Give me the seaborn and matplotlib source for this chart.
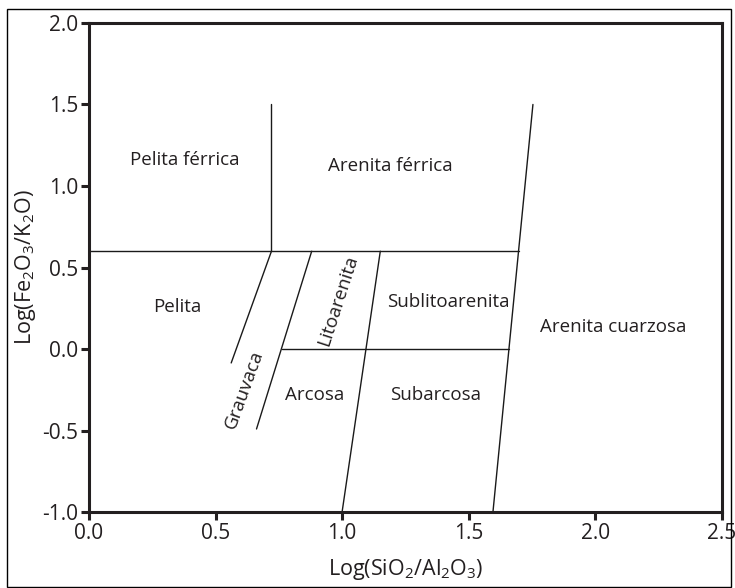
import matplotlib
matplotlib.use("Agg")
import matplotlib.pyplot as plt
import seaborn as sns
import pandas as pd
from matplotlib.patches import Rectangle

# boundary segments of the classification diagram (x = log SiO2/Al2O3, y = log Fe2O3/K2O)
seg_names = ['ferric_vert', 'ferric_horiz', 'grauvaca_1', 'grauvaca_2',
             'zero_horiz', 'arcosa_sub', 'cuarzosa']
seg_x0 = [0.721, 0.0, 0.721, 0.880, 0.762, 1.151, 1.754]
seg_y0 = [1.50, 0.60, 0.60, 0.60, 0.00, 0.60, 1.50]
seg_x1 = [0.721, 1.697, 0.562, 0.662, 1.659, 1.000, 1.596]
seg_y1 = [0.60, 0.60, -0.085, -0.49, 0.00, -1.00, -1.00]

# field labels
field_names = ['Pelita férrica', 'Arenita férrica', 'Pelita', 'Grauvaca', 'Litoarenita',
               'Sublitoarenita', 'Arcosa', 'Subarcosa', 'Arenita cuarzosa']
field_x = [0.38, 1.19, 0.35, 0.615, 0.985, 1.42, 0.89, 1.37, 2.07]
field_y = [1.16, 1.12, 0.26, -0.25, 0.30, 0.29, -0.28, -0.28, 0.135]
field_rot = [0, 0, 0, 70, 72, 0, 0, 0, 0]

x_ticks = [0.0, 0.5, 1.0, 1.5, 2.0, 2.5]
y_ticks = [-1.0, -0.5, 0.0, 0.5, 1.0, 1.5, 2.0]

rows = []
for name, xa, ya, xb, yb in zip(seg_names, seg_x0, seg_y0, seg_x1, seg_y1):
    rows.append({'seg': name, 'x': xa, 'y': ya, 'order': 0})
    rows.append({'seg': name, 'x': xb, 'y': yb, 'order': 1})
segments = pd.DataFrame(rows)

sns.set_theme(style='ticks')
plt.rcParams['font.family'] = ['Open Sans', 'DejaVu Sans']
plt.rcParams['mathtext.default'] = 'regular'

fig = plt.figure(figsize=(7.35, 5.88), dpi=100)
ax = fig.add_axes([0.121, 0.129, 0.861, 0.832])

sns.lineplot(data=segments, x='x', y='y', units='seg', estimator=None, sort=False,
             color='#1a1a1a', linewidth=1.0, ax=ax, legend=False)

for name, xv, yv, rot in zip(field_names, field_x, field_y, field_rot):
    ax.text(xv, yv, name, ha='center', va='center', rotation=rot,
            rotation_mode='anchor', fontsize=13.5, color='#231f20')

ax.set_xlim(0.0, 2.5)
ax.set_ylim(-1.0, 2.0)
ax.set_xticks(x_ticks)
ax.set_yticks(y_ticks)
ax.set_xticklabels([f'{v:.1f}' for v in x_ticks])
ax.set_yticklabels([f'{v:.1f}' for v in y_ticks])
ax.tick_params(axis='both', direction='out', length=6, width=2.2, labelsize=15,
               colors='#231f20', pad=1.5)
for side in ['left', 'right', 'top', 'bottom']:
    ax.spines[side].set_visible(True)
    ax.spines[side].set_linewidth(2.2)
    ax.spines[side].set_color('#231f20')

ax.set_xlabel('Log(SiO$_2$/Al$_2$O$_3$)', fontsize=15.5, color='#231f20', labelpad=10)
ax.set_ylabel('Log(Fe$_2$O$_3$/K$_2$O)', fontsize=15.5, color='#231f20', labelpad=3)

# thin frame around the whole picture
fig.patches.append(Rectangle((0.009, 0.002), 0.985, 0.983, transform=fig.transFigure,
                             fill=False, edgecolor='black', linewidth=1.0))

fig.savefig('out.png', dpi=100)
